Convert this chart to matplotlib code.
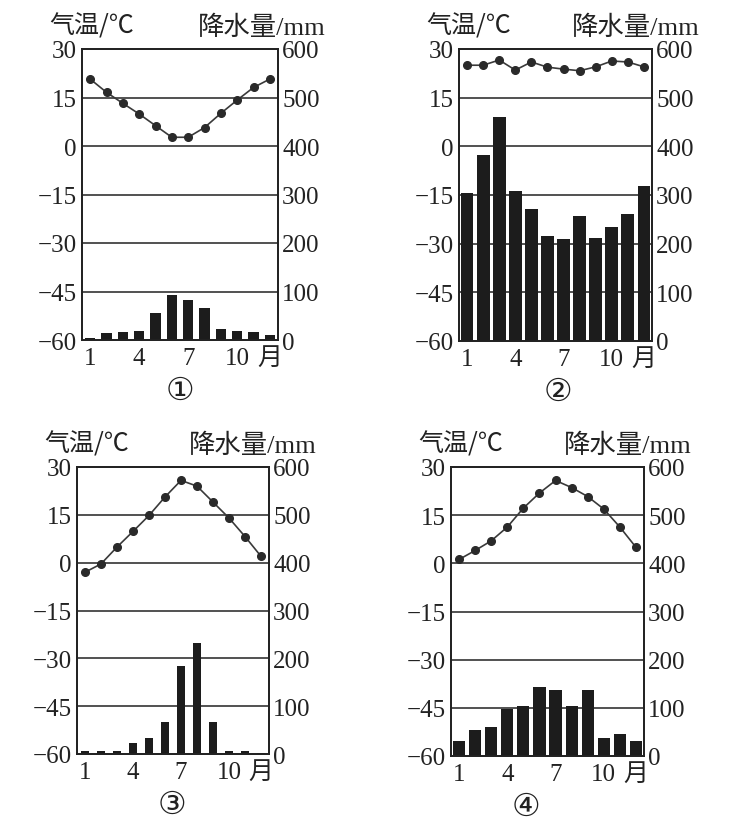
#!/usr/bin/env python3

import matplotlib
matplotlib.use('Agg')
import matplotlib.pyplot as plt

# monthly data
months = list(range(1, 13))

temp_1 = [20.7, 16.6, 13.2, 9.9, 6.3, 2.7, 2.7, 5.7, 10.1, 14.2, 18.1, 20.7]
rain_1 = [5, 15, 17, 19, 56, 92, 83, 67, 23, 19, 17, 10]

temp_2 = [25.0, 25.0, 26.6, 23.5, 26.0, 24.4, 23.8, 23.3, 24.5, 26.3, 26.0, 24.5]
rain_2 = [304, 383, 460, 309, 272, 215, 209, 257, 211, 235, 260, 318]

temp_3 = [-3.0, -0.4, 4.9, 9.8, 14.8, 20.6, 25.8, 24.0, 19.0, 14.0, 8.2, 2.0]
rain_3 = [6, 6, 7, 23, 33, 67, 183, 233, 66, 6, 6, 3]

temp_4 = [1.2, 4.0, 7.0, 11.3, 17.2, 21.9, 25.8, 23.6, 20.8, 16.9, 11.3, 5.0]
rain_4 = [31, 55, 60, 98, 103, 144, 137, 103, 137, 38, 45, 31]

panel_names = ['①', '②', '③', '④']

month_ticks = [1, 4, 7, 10, 12]
month_labels = ['1', '4', '7', '10', '月']
temp_ticks = [-60, -45, -30, -15, 0, 15, 30]
rain_ticks = [0, 100, 200, 300, 400, 500, 600]

temp_title = '气温/℃'
rain_title = '降水量/mm'

# layout (figure pixels) and per-panel styles
W, H = 735, 828
boxes = [(82, 50, 278, 341), (459, 50, 652, 342),
         (77, 468, 269, 755), (451, 468, 644, 757)]
bar_widths = [0.65, 0.8, 0.55, 0.76]
name_shift = [0, 3, -1, -22]

ink = '#222222'
fonts = ['Liberation Serif', 'Noto Sans CJK SC', 'DejaVu Sans']
plt.rcParams['font.family'] = fonts

temps = [temp_1, temp_2, temp_3, temp_4]
rains = [rain_1, rain_2, rain_3, rain_4]

fig = plt.figure(figsize=(W / 100, H / 100), dpi=100)
fig.patch.set_facecolor('white')


def fmt(v):
    return str(v).replace('-', '\u2212')


for i in range(4):
    x0, y0, x1, y1 = boxes[i]
    ax = fig.add_axes([x0 / W, 1 - y1 / H, (x1 - x0) / W, (y1 - y0) / H])
    ax2 = ax.twinx()
    # temperature axis on top of the precipitation axis
    ax.set_zorder(ax2.get_zorder() + 1)
    ax.patch.set_visible(False)

    ax.set_xlim(0.5, 12.5)
    ax.set_ylim(-60, 30)
    ax2.set_ylim(0, 600)

    for r in rain_ticks[1:-1]:
        ax2.axhline(r, color=ink, lw=1.1, zorder=1)

    ax2.bar(months, rains[i], width=bar_widths[i], color='#1c1c1c', zorder=3)
    ax.plot(months, temps[i], color='#3a3a3a', lw=1.2,
            marker='o', ms=5.5, mfc='#2a2a2a', mec='#2a2a2a', zorder=4)

    ax.set_xticks(month_ticks)
    ax.set_xticklabels(month_labels, fontsize=18, color=ink)
    ax.set_yticks(temp_ticks)
    ax.set_yticklabels([fmt(t) for t in temp_ticks], fontsize=18, color=ink)
    ax2.set_yticks(rain_ticks)
    ax2.set_yticklabels([str(r) for r in rain_ticks], fontsize=18, color=ink)
    ax.tick_params(length=0, pad=4)
    ax.tick_params(axis='x', pad=5)
    ax2.tick_params(length=0, pad=3)

    for a in (ax, ax2):
        for s in a.spines.values():
            s.set_color(ink)
            s.set_linewidth(1.3)

    ax.annotate(temp_title, xy=(0, 1), xycoords='axes fraction',
                xytext=(-33, 16), textcoords='offset pixels',
                ha='left', va='baseline', fontsize=18, color=ink,
                family=['Noto Sans CJK SC', 'DejaVu Sans'])
    ax.annotate(rain_title, xy=(1, 1), xycoords='axes fraction',
                xytext=(48, 15), textcoords='offset pixels',
                ha='right', va='baseline', fontsize=19, color=ink)
    ax.annotate(panel_names[i], xy=(0.5, 0), xycoords='axes fraction',
                xytext=(name_shift[i], -50), textcoords='offset pixels',
                ha='center', va='center', fontsize=23, color=ink,
                family=['DejaVu Sans'])

fig.savefig('out.png', dpi=100, facecolor='white')
